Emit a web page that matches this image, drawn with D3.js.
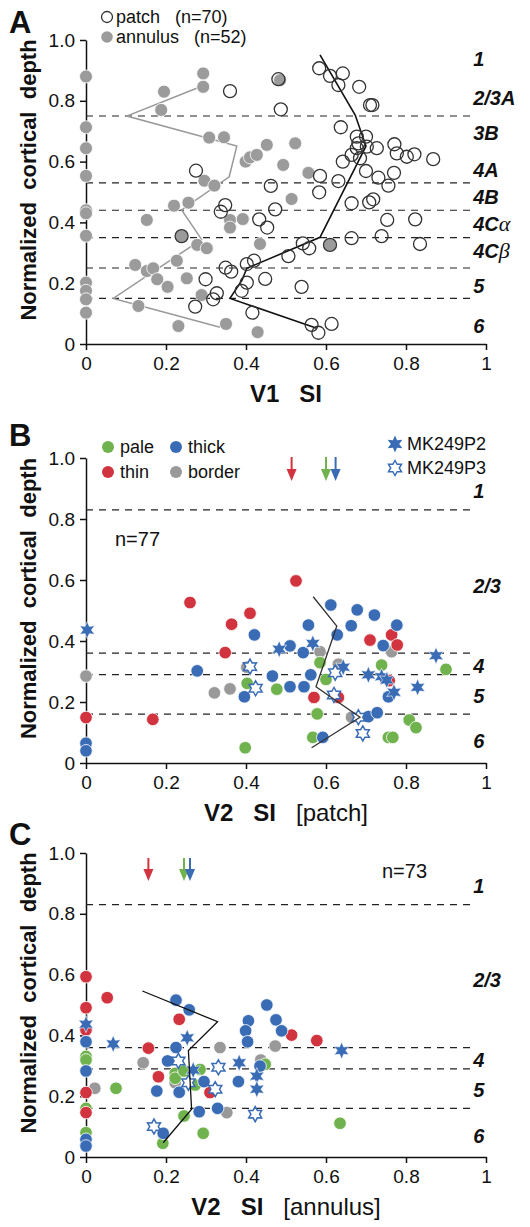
<!DOCTYPE html>
<html lang="en">
<head>
<meta charset="UTF-8">
<title>Surround suppression vs cortical depth</title>
<script src="https://cdn.jsdelivr.net/npm/d3@7"></script>
<style>
  body { margin: 0; background: #fff; }
  svg text { font-family: "Liberation Sans", Arial, Helvetica, sans-serif; fill: #111; }
</style>
</head>
<body>
<svg id="fig" width="530" height="1227"></svg>
<script>
// ---------- data (x = SI, y = normalized cortical depth) ----------
const xTicks = [0, 0.2, 0.4, 0.6, 0.8, 1];
const yTicks = [0, 0.2, 0.4, 0.6, 0.8, 1];

// Panel A: V1
const aAnnulus = [
  [0, 0.88], [0.293, 0.89], [0.293, 0.846], [0.195, 0.83], [0.188, 0.77], [0.485, 0.868],
  [0, 0.713], [0, 0.644], [0, 0.553], [0, 0.44], [0, 0.43], [0, 0.356], [0, 0.202], [0, 0.175],
  [0, 0.147], [0, 0.103], [0.308, 0.679], [0.345, 0.68], [0.399, 0.6], [0.41, 0.614], [0.427, 0.622],
  [0.452, 0.655], [0.523, 0.66], [0.493, 0.589], [0.296, 0.537], [0.321, 0.521], [0.514, 0.477],
  [0.22, 0.455], [0.256, 0.465], [0.152, 0.408], [0.36, 0.408], [0.36, 0.383], [0.392, 0.411],
  [0.239, 0.355], [0.278, 0.326], [0.302, 0.315], [0.435, 0.329], [0.123, 0.26], [0.152, 0.24],
  [0.168, 0.249], [0.227, 0.274], [0.178, 0.213], [0.204, 0.188], [0.252, 0.216], [0.289, 0.161],
  [0.131, 0.125], [0.231, 0.059], [0.35, 0.066], [0.429, 0.039], [0.556, 0.563], [0.61, 0.326]
];
const aPatch = [
  [0.36, 0.832], [0.481, 0.871], [0.487, 0.772], [0.275, 0.57], [0.462, 0.52], [0.348, 0.457],
  [0.337, 0.435], [0.433, 0.41], [0.453, 0.383], [0.473, 0.443], [0.402, 0.263], [0.42, 0.274],
  [0.349, 0.251], [0.363, 0.238], [0.402, 0.202], [0.389, 0.175], [0.448, 0.214], [0.299, 0.213],
  [0.327, 0.167], [0.318, 0.147], [0.273, 0.123], [0.416, 0.103], [0.506, 0.289], [0.239, 0.355],
  [0.583, 0.907], [0.61, 0.882], [0.642, 0.89], [0.631, 0.852], [0.683, 0.846], [0.71, 0.786],
  [0.716, 0.786], [0.637, 0.713], [0.677, 0.682], [0.7, 0.682], [0.681, 0.66], [0.677, 0.644],
  [0.702, 0.649], [0.664, 0.622], [0.685, 0.611], [0.727, 0.644], [0.771, 0.657], [0.777, 0.627],
  [0.802, 0.616], [0.821, 0.624], [0.868, 0.608], [0.642, 0.6], [0.7, 0.569], [0.585, 0.553],
  [0.631, 0.536], [0.731, 0.547], [0.77, 0.563], [0.756, 0.521], [0.583, 0.499], [0.664, 0.463],
  [0.708, 0.466], [0.718, 0.476], [0.753, 0.408], [0.823, 0.41], [0.664, 0.348], [0.739, 0.355],
  [0.835, 0.329], [0.542, 0.331], [0.558, 0.315], [0.539, 0.188], [0.564, 0.063], [0.581, 0.037],
  [0.614, 0.066], [0.61, 0.326]
];
const aPatchMean = [[0.585, 0.951], [0.673, 0.753], [0.7, 0.651], [0.585, 0.351], [0.402, 0.249],
  [0.39, 0.21], [0.36, 0.15], [0.577, 0.052]];
const aAnnulusMean = [[0.286, 0.846], [0.102, 0.75], [0.377, 0.651], [0.358, 0.55], [0.239, 0.441],
  [0.289, 0.344], [0.068, 0.15], [0.335, 0.055]];
const aBounds = [0.75, 0.53, 0.44, 0.35, 0.25, 0.15];
const aLayers = ["1", "2/3A", "3B", "4A", "4B", "4C|α", "4C|β", "5", "6"];
const aLayerDepth = [0.914, 0.786, 0.671, 0.55, 0.461, 0.373, 0.283, 0.169, 0.037];

// Panel B: V2, patch
const bPale = [[0.403, 0.261], [0.477, 0.242], [0.398, 0.05], [0.9, 0.307], [0.585, 0.329], [0.6, 0.274],
  [0.739, 0.321], [0.578, 0.161], [0.808, 0.141], [0.825, 0.116], [0.567, 0.084], [0.756, 0.084], [0.767, 0.084]];
const bThin = [[0, 0.149], [0.167, 0.143], [0.26, 0.526], [0.364, 0.455], [0.41, 0.491], [0.348, 0.362],
  [0.525, 0.597], [0.71, 0.403], [0.764, 0.42], [0.778, 0.387], [0.758, 0.27], [0.57, 0.215], [0.631, 0.215]];
const bThick = [[0, 0.065], [0, 0.04], [0.421, 0.42], [0.51, 0.384], [0.278, 0.302], [0.466, 0.285],
  [0.51, 0.25], [0.396, 0.217], [0.612, 0.518], [0.678, 0.502], [0.721, 0.485], [0.556, 0.452],
  [0.663, 0.45], [0.777, 0.452], [0.628, 0.42], [0.743, 0.385], [0.543, 0.362], [0.562, 0.289],
  [0.545, 0.25], [0.756, 0.217], [0.706, 0.152], [0.728, 0.165], [0.592, 0.084]];
const bBorder = [[0, 0.285], [0.402, 0.314], [0.321, 0.23], [0.36, 0.243], [0.585, 0.365], [0.764, 0.365],
  [0.631, 0.324], [0.664, 0.15]];
const bP2 = [[0.003, 0.436], [0.483, 0.373], [0.567, 0.392], [0.875, 0.352], [0.643, 0.314], [0.706, 0.289],
  [0.739, 0.283], [0.752, 0.272], [0.77, 0.232], [0.829, 0.248]];
const bP3 = [[0.41, 0.316], [0.424, 0.245], [0.623, 0.296], [0.62, 0.223], [0.681, 0.15], [0.692, 0.097]];
const bMean = [[0.568, 0.545], [0.627, 0.449], [0.575, 0.25], [0.685, 0.15], [0.564, 0.05]];
const bArrows = [0.514, 0.6, 0.624];

// Panel C: V2, annulus
const cPale = [[0, 0.331], [0, 0.319], [0.075, 0.226], [0, 0.16], [0, 0.08], [0.223, 0.275], [0.223, 0.259],
  [0.245, 0.283], [0.285, 0.288], [0.273, 0.237], [0.245, 0.135], [0.192, 0.045], [0.293, 0.078],
  [0.448, 0.305], [0.635, 0.111]];
const cThin = [[0, 0.593], [0.053, 0.524], [0, 0.491], [0, 0.418], [0, 0.212], [0, 0.146], [0.156, 0.358],
  [0.181, 0.264], [0.233, 0.453], [0.31, 0.212], [0.514, 0.401], [0.577, 0.383]];
const cThick = [[0, 0.379], [0, 0.283], [0, 0.058], [0, 0.036], [0.177, 0.217], [0.225, 0.516], [0.258, 0.484],
  [0.225, 0.36], [0.204, 0.316], [0.295, 0.248], [0.233, 0.213], [0.329, 0.16], [0.283, 0.149],
  [0.193, 0.078], [0.381, 0.248], [0.406, 0.448], [0.399, 0.415], [0.404, 0.379], [0.452, 0.5],
  [0.475, 0.451], [0.489, 0.415], [0.435, 0.299]];
const cBorder = [[0.022, 0.226], [0.143, 0.31], [0.223, 0.244], [0.352, 0.146], [0.335, 0.36], [0.473, 0.365],
  [0.437, 0.319]];
const cP2 = [[0, 0.437], [0.068, 0.372], [0.253, 0.392], [0.268, 0.286], [0.383, 0.31], [0.639, 0.35],
  [0.427, 0.266], [0.427, 0.223]];
const cP3 = [[0.231, 0.316], [0.256, 0.244], [0.331, 0.295], [0.323, 0.223], [0.17, 0.1], [0.423, 0.141]];
const cMean = [[0.141, 0.546], [0.329, 0.445], [0.256, 0.35], [0.264, 0.157], [0.193, 0.047]];
const cArrows = [0.156, 0.245, 0.26];

const v2Bounds = [0.83, 0.36, 0.29, 0.16];
const v2Layers = ["1", "2/3", "4", "5", "6"];
const bLayerDepth = [0.869, 0.557, 0.295, 0.197, 0.049];
const cLayerDepth = [0.868, 0.559, 0.296, 0.197, 0.046];

const colors = { pale: "#70b24e", thin: "#d1333f", thick: "#3a6cb6", border: "#999999" };
const arrowColors = [colors.thin, colors.pale, colors.thick];

// ---------- drawing ----------
const svg = d3.select("#fig");

function starPath(R, r) {
  const pts = d3.range(12).map(i => {
    const a = Math.PI / 6 * i - Math.PI / 2;
    const rad = i % 2 ? r : R;
    return [rad * Math.cos(a), rad * Math.sin(a)];
  });
  return "M" + pts.join("L") + "Z";
}

function makePanel(top, bottom) {
  const x = d3.scaleLinear().domain([0, 1]).range([86, 486]);
  const y = d3.scaleLinear().domain([0, 1]).range([bottom, top]);
  const g = svg.append("g");

  const xa = g.append("g").attr("transform", `translate(0,${bottom})`)
    .call(d3.axisBottom(x).tickValues(xTicks).tickFormat(d3.format("~g")).tickSize(6).tickSizeOuter(0).tickPadding(7));
  const ya = g.append("g").attr("transform", `translate(86,0)`)
    .call(d3.axisLeft(y).tickValues(yTicks).tickFormat(d => d === 0 ? "0" : d.toFixed(1)).tickSize(6).tickSizeOuter(0).tickPadding(5));
  [xa, ya].forEach(a => {
    a.selectAll("path, line").attr("stroke", "#111").attr("stroke-width", 1.5);
    a.selectAll("text").attr("font-size", 19).attr("fill", "#111");
  });

  g.append("text")
    .attr("transform", `translate(36,${(top + bottom) / 2 - 12}) rotate(-90)`)
    .attr("text-anchor", "middle").attr("font-size", 22).attr("font-weight", "bold")
    .style("white-space", "pre").text("Normalized  cortical  depth");
  return { x, y, g };
}

function bounds(p, vals) {
  p.g.selectAll(null).data(vals).enter().append("line")
    .attr("x1", p.x(0)).attr("x2", p.x(0.97))
    .attr("y1", d => p.y(d)).attr("y2", d => p.y(d))
    .attr("stroke", "#222").attr("stroke-width", 1.2).attr("stroke-dasharray", "7,6");
}

function layers(p, names, depths) {
  const t = p.g.selectAll(null).data(names).enter().append("text")
    .attr("x", p.x(0.968)).attr("y", (d, i) => p.y(depths[i]))
    .attr("font-size", 20).attr("font-weight", "bold").attr("font-style", "italic");
  t.each(function (d) {
    const parts = d.split("|");
    const s = d3.select(this);
    s.append("tspan").text(parts[0]);
    if (parts[1]) s.append("tspan").attr("font-family", "'Liberation Serif', serif")
      .attr("font-weight", "normal").attr("font-size", 22).text(parts[1]);
  });
}

function meanLine(p, pts, color, w) {
  p.g.append("path").datum(pts)
    .attr("d", d3.line().x(d => p.x(d[0])).y(d => p.y(d[1])))
    .attr("fill", "none").attr("stroke", color).attr("stroke-width", w);
}

function dots(p, pts, color) {
  p.g.selectAll(null).data(pts).enter().append("circle")
    .attr("cx", d => p.x(d[0])).attr("cy", d => p.y(d[1])).attr("r", 6.3)
    .attr("fill", color).attr("stroke", "#fff").attr("stroke-width", 0.8);
}

function stars(p, pts, filled) {
  p.g.selectAll(null).data(pts).enter().append("path")
    .attr("transform", d => `translate(${p.x(d[0])},${p.y(d[1])})`)
    .attr("d", filled ? starPath(8.5, 4.2) : starPath(7.5, 4.3))
    .attr("fill", filled ? colors.thick : "#fff")
    .attr("stroke", filled ? "#fff" : colors.thick)
    .attr("stroke-width", filled ? 0.6 : 1.5);
}

function arrows(p, vals, yTop, yTip) {
  vals.forEach((v, i) => {
    const cx = p.x(v);
    p.g.append("line").attr("x1", cx).attr("x2", cx).attr("y1", yTop).attr("y2", yTip - 9)
      .attr("stroke", arrowColors[i]).attr("stroke-width", 2);
    p.g.append("path").attr("d", `M${cx - 5},${yTip - 12}L${cx + 5},${yTip - 12}L${cx},${yTip}Z`)
      .attr("fill", arrowColors[i]);
  });
}

function xTitle(p, parts) {
  const t = p.g.append("text").attr("x", p.x(0.5)).attr("y", p.y(0) + 58)
    .attr("text-anchor", "middle").attr("font-size", 24).style("white-space", "pre");
  parts.forEach(([s, b]) => t.append("tspan").attr("font-weight", b ? "bold" : "normal").text(s));
}

function letter(s, yb) {
  svg.append("text").attr("x", 9).attr("y", yb).attr("font-size", 31).attr("font-weight", "bold").text(s);
}

// ----- Panel A -----
const pA = makePanel(40, 344);
bounds(pA, aBounds);
layers(pA, aLayers, aLayerDepth);
meanLine(pA, aAnnulusMean, "#999", 1.5);
pA.g.selectAll(null).data(aAnnulus).enter().append("circle")
  .attr("cx", d => pA.x(d[0])).attr("cy", d => pA.y(d[1])).attr("r", 6.5)
  .attr("fill", "#9b9b9b").attr("stroke", "#fff").attr("stroke-width", 0.8);
meanLine(pA, aPatchMean, "#111", 1.6);
pA.g.selectAll(null).data(aPatch).enter().append("circle")
  .attr("cx", d => pA.x(d[0])).attr("cy", d => pA.y(d[1])).attr("r", 6.5)
  .attr("fill", "none").attr("stroke", "#333").attr("stroke-width", 1.3);
xTitle(pA, [["V1", true], ["   SI", true]]);
letter("A", 33);
// legend A
svg.append("circle").attr("cx", 107).attr("cy", 17).attr("r", 5.5).attr("fill", "none").attr("stroke", "#333").attr("stroke-width", 1.3);
svg.append("circle").attr("cx", 107).attr("cy", 37).attr("r", 5.8).attr("fill", "#9b9b9b");
svg.append("text").attr("x", 116).attr("y", 23).attr("font-size", 18).style("white-space", "pre").text("patch   (n=70)");
svg.append("text").attr("x", 116).attr("y", 43).attr("font-size", 18).style("white-space", "pre").text("annulus   (n=52)");

// ----- Panel B -----
const pB = makePanel(458, 763);
bounds(pB, v2Bounds);
layers(pB, v2Layers, bLayerDepth);
dots(pB, bBorder, colors.border);
dots(pB, bPale, colors.pale);
dots(pB, bThin, colors.thin);
dots(pB, bThick, colors.thick);
stars(pB, bP2, true);
stars(pB, bP3, false);
meanLine(pB, bMean, "#333", 1.3);
arrows(pB, bArrows, 457, 481);
pB.g.append("text").attr("x", 115).attr("y", 546).attr("font-size", 20).text("n=77");
xTitle(pB, [["V2", true], ["   SI", true], ["   [patch]", false]]);
letter("B", 446);
// legend B
[["pale", 0, 0], ["thick", 1, 0], ["thin", 0, 1], ["border", 1, 1]].forEach(([k, c, r]) => {
  const lx = 108 + c * 68, ly = 447 + r * 25;
  svg.append("circle").attr("cx", lx).attr("cy", ly).attr("r", 6).attr("fill", colors[k]);
  svg.append("text").attr("x", lx + 12).attr("y", ly + 6).attr("font-size", 18).text(k);
});
[["MK249P2", true], ["MK249P3", false]].forEach(([k, f], i) => {
  const ly = 444 + i * 24;
  svg.append("path").attr("transform", `translate(395,${ly})`)
    .attr("d", f ? starPath(8.5, 4.2) : starPath(7.5, 4.3))
    .attr("fill", f ? colors.thick : "#fff").attr("stroke", f ? "none" : colors.thick).attr("stroke-width", 1.5);
  svg.append("text").attr("x", 407).attr("y", ly + 6).attr("font-size", 18).text(k);
});

// ----- Panel C -----
const pC = makePanel(853, 1157);
bounds(pC, v2Bounds);
layers(pC, v2Layers, cLayerDepth);
dots(pC, cBorder, colors.border);
dots(pC, cPale, colors.pale);
dots(pC, cThin, colors.thin);
dots(pC, cThick, colors.thick);
stars(pC, cP2, true);
stars(pC, cP3, false);
meanLine(pC, cMean, "#111", 1.3);
arrows(pC, cArrows, 858, 881);
pC.g.append("text").attr("x", 382).attr("y", 878).attr("font-size", 20).text("n=73");
xTitle(pC, [["V2", true], ["   SI", true], ["   [annulus]", false]]);
letter("C", 845);
</script>
</body>
</html>
